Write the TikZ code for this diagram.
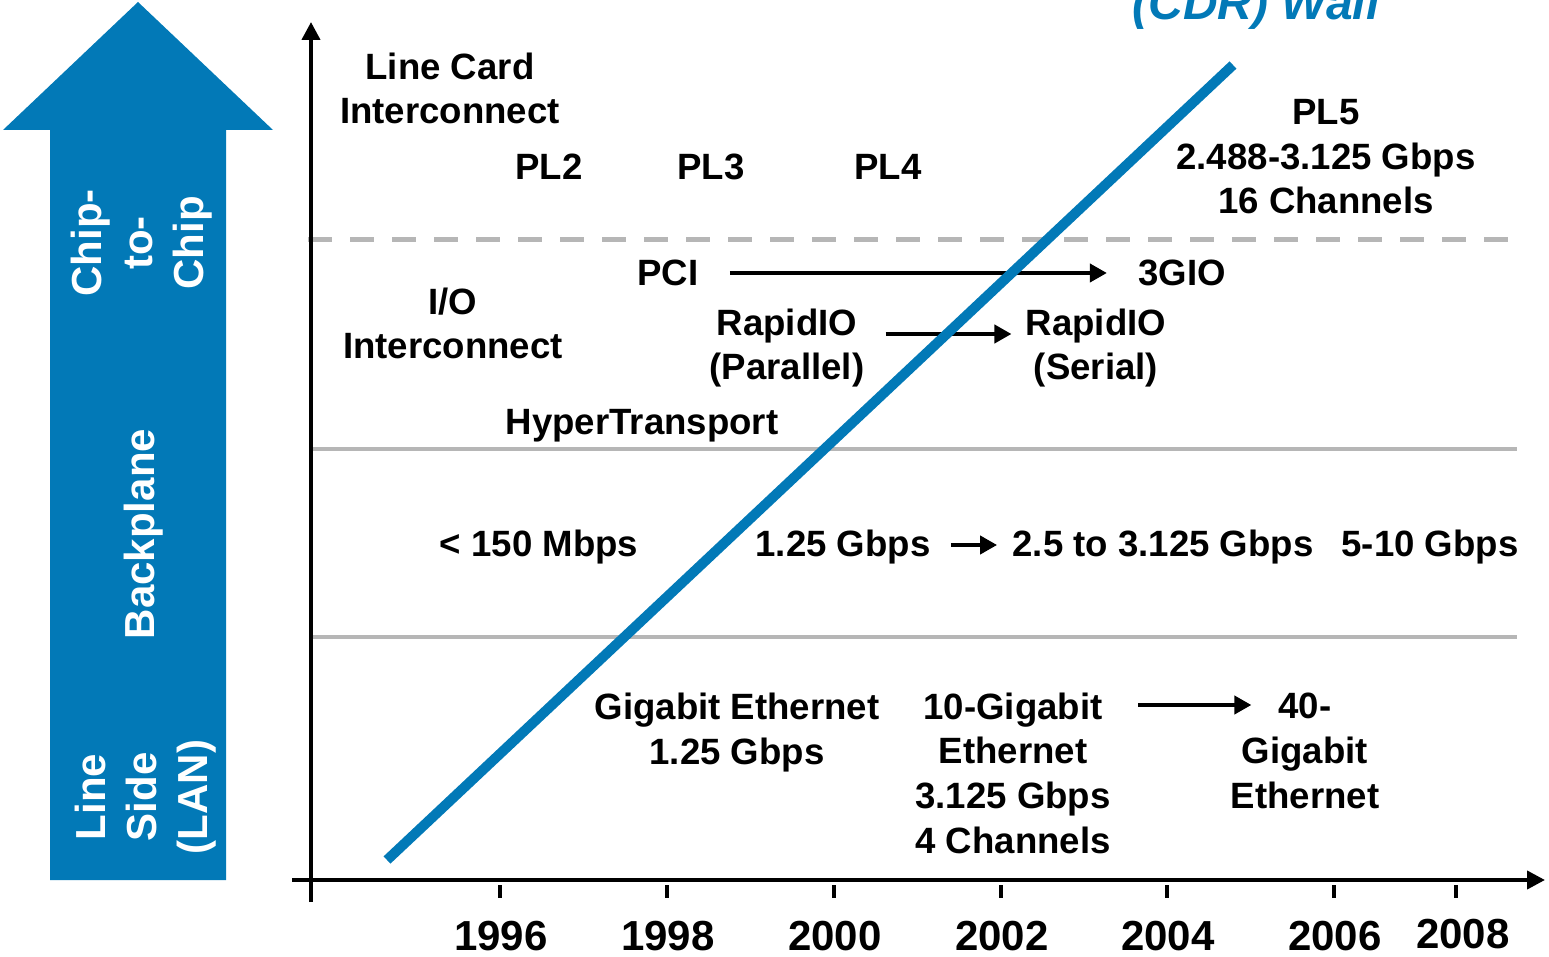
\documentclass[tikz,border=0pt]{standalone}
\usepackage{fontspec}
\setmainfont{Liberation Sans}
\usetikzlibrary{arrows.meta}
\definecolor{wallblue}{RGB}{2,121,183}
\definecolor{gridgray}{RGB}{182,182,182}
\tikzset{
  lbl/.style={font=\fontsize{18.3}{22.3}\selectfont\bfseries, inner sep=0pt, align=center, anchor=base},
  side/.style={font=\fontsize{21}{25.5}\selectfont\bfseries, text=white, inner sep=0pt, align=center, rotate=90},
  year/.style={font=\fontsize{21}{21}\selectfont\bfseries, inner sep=0pt, anchor=base},
  conn/.style={line width=2pt, -{Triangle[length=8.5pt,width=9pt]}},
  axisline/.style={line width=2pt, draw=black},
  gridline/.style={line width=2pt, draw=gridgray},
  wall/.style={line width=5pt, draw=wallblue},
}
\begin{document}
\begin{tikzpicture}[x=0.5pt,y=-0.5pt]
\useasboundingbox (0,0) rectangle (1549,957);
\clip (0,0) rectangle (1549,957);
% big blue arrow
\fill[wallblue] (50,880) -- (50,130) -- (3,130) -- (138,2) -- (273,130) -- (226,130) -- (226,880) -- cycle;
\node[side] (c2c) at (142,243) {Chip-\\to-\\Chip};
\node[side] (bp) at (144,534) {Backplane};
\node[side] (ls) at (146,797) {Line\\Side\\(LAN)};
% grid lines
\draw[line width=2.5pt, draw=gridgray, dash pattern=on 12pt off 9pt] (308,240) -- (1510,240);
\draw[gridline] (311,449) -- (1517,449);
\draw[gridline] (311,637) -- (1517,637);
% axes
\draw[axisline, -{Triangle[length=9pt,width=9pt]}] (311,902) -- (311,22);
\draw[axisline, -{Triangle[length=9pt,width=9pt]}] (292,880) -- (1545,880);
\foreach \x/\yr in {500/1996, 667/1998, 834/2000, 1001/2002, 1167/2004, 1334/2006} {
  \draw[axisline] (\x,885) -- (\x,898);
  \node[year] (y\yr) at (\x+1,950) {\yr};
}
\draw[axisline] (1456,885) -- (1456,898);
\node[year] (y2008) at (1463,948) {2008};
% labels (multi-line nodes: base = last line)
\node[lbl] (lci) at (450,124) {Line Card\\Interconnect};
\node[lbl] (pl2) at (549,180) {PL2};
\node[lbl] (pl3) at (711,180) {PL3};
\node[lbl] (pl4) at (888,180) {PL4};
\node[lbl] (pl5) at (1326,214) {PL5\\2.488-3.125 Gbps\\16 Channels};
\node[lbl] (pci) at (668,286) {PCI};
\node[lbl] (g3) at (1182,286) {3GIO};
\node[lbl] (io) at (453,359) {I/O\\Interconnect};
\node[lbl] (rp) at (787,380) {RapidIO\\(Parallel)};
\node[lbl] (rs) at (1096,380) {RapidIO\\(Serial)};
\node[lbl] (ht) at (642,435) {HyperTransport};
\node[lbl] (m150) at (539,556) {< 150 Mbps};
\node[lbl] (g125) at (843,556) {1.25 Gbps};
\node[lbl] (g25) at (1163,556) {2.5 to 3.125 Gbps};
\node[lbl] (g510) at (1430,556) {5-10 Gbps};
\node[lbl] (ge) at (737,764) {Gigabit Ethernet\\1.25 Gbps};
\node[lbl] (ge10) at (1013,853) {10-Gigabit\\Ethernet\\3.125 Gbps\\4 Channels};
\node[lbl] (ge40) at (1305,808) {40-\\Gigabit\\Ethernet};
% connectors
\draw[conn] ([shift={(15.5pt,6.5pt)}]pci.base east) -- ([shift={(-15.5pt,6.5pt)}]g3.base west);
\draw[conn] ([shift={(10.5pt,23pt)}]rp.base east) -- ([shift={(-7pt,23pt)}]rs.base west);
\draw[conn] ([shift={(10pt,5.5pt)}]g125.base east) -- ([shift={(-7.5pt,5.5pt)}]g25.base west);
\draw[conn] ([shift={(13.7pt,74pt)}]ge10.base east) -- ([shift={(10.5pt,51.5pt)}]ge40.base west);
% wall
\draw[wall] (387,860) -- (1233,65);
\node[font=\fontsize{24}{28}\selectfont\bfseries\itshape, text=wallblue, inner sep=0pt, anchor=base] (cdr) at (1256,20) {(CDR) Wall};
\end{tikzpicture}
\end{document}
